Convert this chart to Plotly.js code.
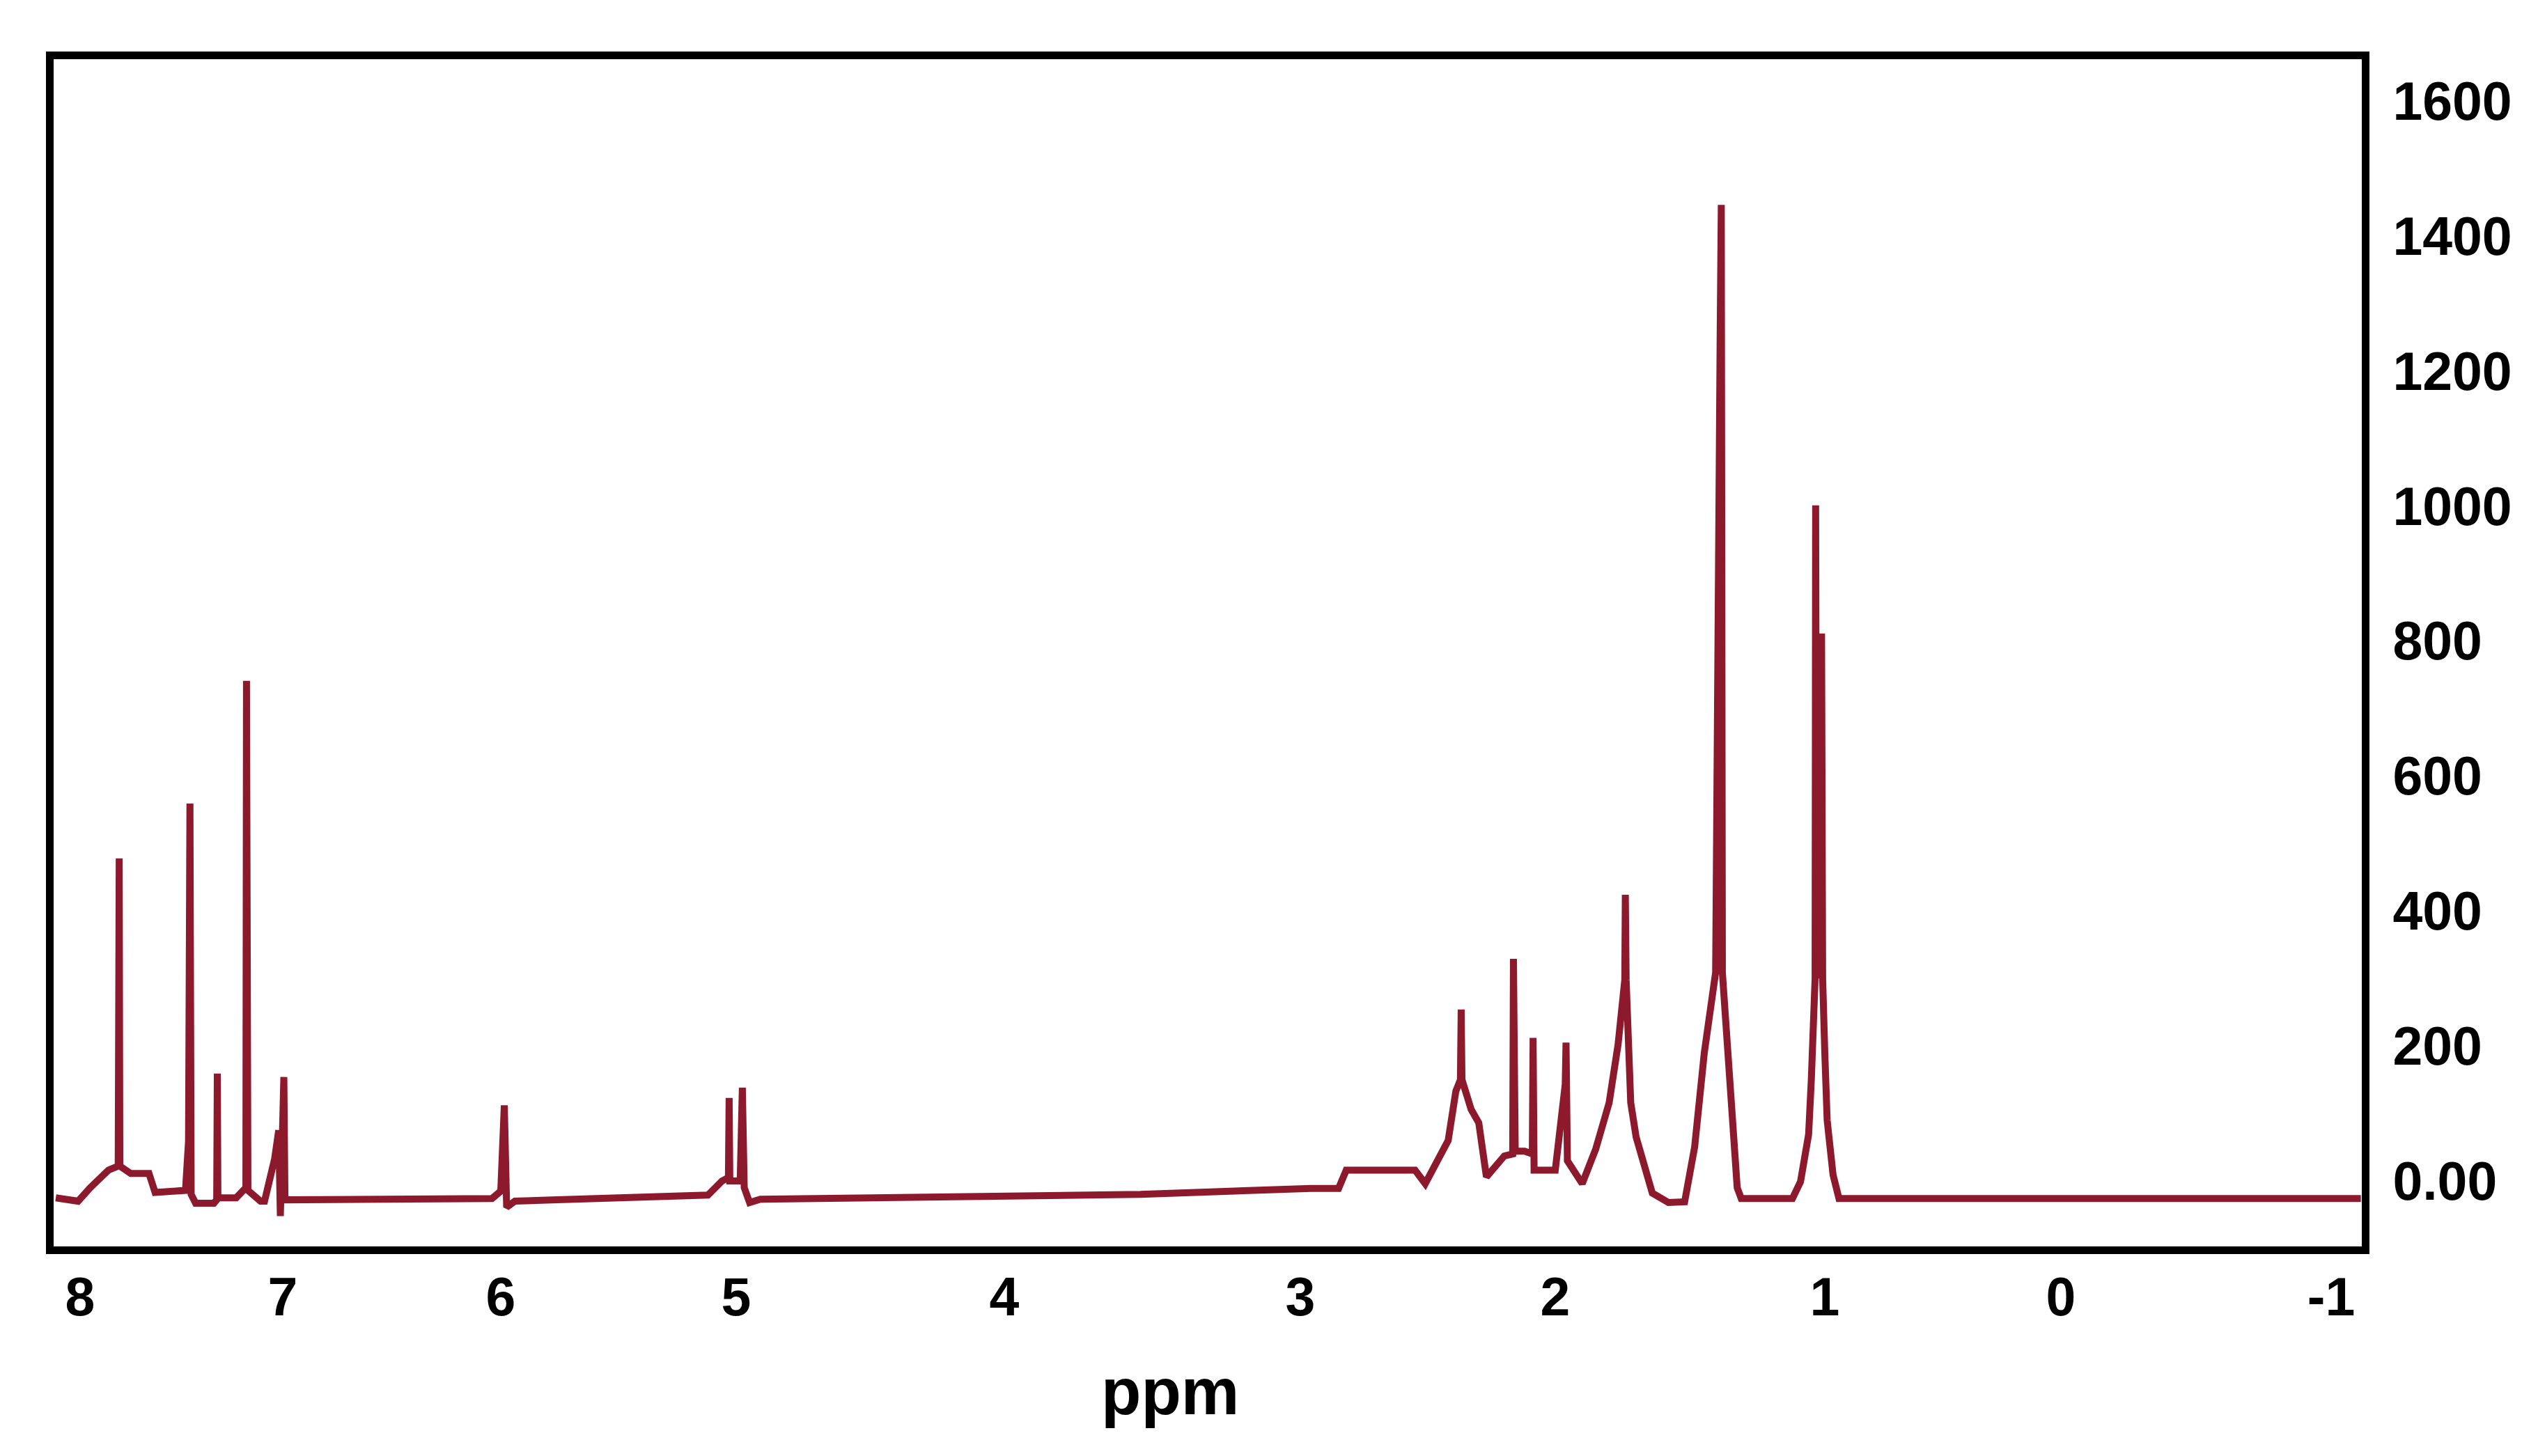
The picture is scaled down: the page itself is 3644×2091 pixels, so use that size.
<!DOCTYPE html>
<html>
<head>
<meta charset="utf-8">
<script src="https://cdn.plot.ly/plotly-3.0.1.min.js"></script>
<style>html,body{margin:0;padding:0;background:#fff;}#chart{width:3644px;height:2091px;}</style>
</head>
<body>
<div id="chart"></div>
<script>
// ---- data ----
// chemical shift (ppm) of each traced point, from high to low field
const shiftPpm = [
  8.12, 8.01, 7.95, 7.86, 7.812, 7.809, 7.807, 7.804, 7.75, 7.66, 7.63, 7.48,
  7.465, 7.458, 7.452, 7.43, 7.34, 7.326, 7.323, 7.320, 7.23, 7.20, 7.182, 7.179,
  7.176, 7.172, 7.11, 7.09, 7.04, 7.02, 7.012, 6.995, 6.990, 6.04, 6.00, 5.985,
  5.975, 5.94, 5.76, 5.12, 5.06, 5.033, 5.030, 5.027, 4.985, 4.977, 4.970, 4.95,
  4.91, 4.36, 3.54, 2.96, 2.85, 2.82, 2.55, 2.51, 2.42, 2.39, 2.372, 2.369,
  2.366, 2.33, 2.30, 2.27, 2.20, 2.167, 2.164, 2.160, 2.157, 2.12, 2.090, 2.087,
  2.083, 2.00, 1.963, 1.960, 1.955, 1.90, 1.85, 1.80, 1.767, 1.742, 1.740, 1.737,
  1.72, 1.70, 1.64, 1.58, 1.52, 1.483, 1.447, 1.42, 1.405, 1.388, 1.384, 1.380,
  1.36, 1.34, 1.325, 1.31, 1.12, 1.09, 1.06, 1.05, 1.036, 1.034, 1.030, 1.012,
  1.008, 1.00, 0.99, 0.965, 0.94, -1.11
];
// signal intensity at each point
const intensity = [
  -25, -30, -10, 16, 22, 386, 478, 22, 11, 11, -17, -14,
  59, 559, -20, -33, -33, -28, 159, -25, -25, -14, -10, 741,
  575, -14, -30, -30, 33, 75, -52, 154, -28, -26, -15, 112,
  -39, -30, -28, -21, 0, 5, 123, 0, 0, 138, -10, -32,
  -27, -25, -20, -11, -11, 16, 16, -4, 60, 133, 150, 254,
  150, 106, 86, 6, 37, 40, 329, 164, 44, 44, 40, 212,
  16, 16, 143, 205, 30, -4, 47, 116, 202, 298, 424, 298,
  116, 65, -18, -32, -31, 50, 190, 280, 309, 1262, 1446, 309,
  180, 90, -10, -26, -26, -1, 69, 150, 300, 1001, 300, 811,
  300, 190, 90, 9, -26, -26
];
// axis ticks and title
const xTickPpm = [8, 7, 6, 5, 4, 3, 2, 1, 0, -1];
const xTickLabels = ['8', '7', '6', '5', '4', '3', '2', '1', '0', '-1'];
const yTickValues = [0, 200, 400, 600, 800, 1000, 1200, 1400, 1600];
const yTickLabels = ['0.00', '200', '400', '600', '800', '1000', '1200', '1400', '1600'];
const xTitle = 'ppm';

// ---- layout: the original ppm scale is not uniform, so ticks sit at these screen positions ----
const W = 3644, H = 2091;
const plotL = 77, plotR = 3391, plotT = 85, plotB = 1790;
const tickScreen = [115, 406, 719, 1057, 1442, 1867, 2233, 2620, 2959, 3347];
const titleScreenX = 1680;

function ppmToScreen(p) {
  let i = 0;
  for (i = 0; i < xTickPpm.length - 2; i++) {
    if (p >= xTickPpm[i + 1]) break;
  }
  const p0 = xTickPpm[i], p1 = xTickPpm[i + 1];
  const s0 = tickScreen[i], s1 = tickScreen[i + 1];
  return s0 + (p - p0) * (s1 - s0) / (p1 - p0);
}

const xs = shiftPpm.map(ppmToScreen);
const font = {family: 'Arial, "Liberation Sans", sans-serif', size: 77, color: '#000', weight: 700};

const trace = {
  x: xs, y: intensity, type: 'scatter', mode: 'lines',
  line: {color: '#8c1a2c', width: 10, shape: 'linear'},
  hoverinfo: 'skip'
};

const layout = {
  width: W, height: H,
  margin: {l: plotL, r: W - plotR, t: plotT, b: H - plotB, pad: 0},
  paper_bgcolor: '#ffffff', plot_bgcolor: '#ffffff',
  showlegend: false,
  xaxis: {
    range: [plotL, plotR],
    tickmode: 'array', tickvals: tickScreen, ticktext: xTickLabels,
    showgrid: false, zeroline: false, ticks: '',
    showline: true, mirror: true, linecolor: '#000', linewidth: 11,
    tickfont: font, ticklabelstandoff: -4
  },
  yaxis: {
    side: 'right',
    range: [-97, 1662],
    tickmode: 'array', tickvals: yTickValues, ticktext: yTickLabels,
    showgrid: false, zeroline: false, ticks: '',
    showline: true, mirror: true, linecolor: '#000', linewidth: 11,
    tickfont: font, ticklabelstandoff: 18
  },
  annotations: [{
    text: xTitle, xref: 'x', yref: 'paper', x: titleScreenX, y: -0.122,
    xanchor: 'center', yanchor: 'middle', showarrow: false,
    font: Object.assign({}, font, {size: 94})
  }]
};

Plotly.newPlot('chart', [trace], layout, {displayModeBar: false, staticPlot: true});
</script>
</body>
</html>
